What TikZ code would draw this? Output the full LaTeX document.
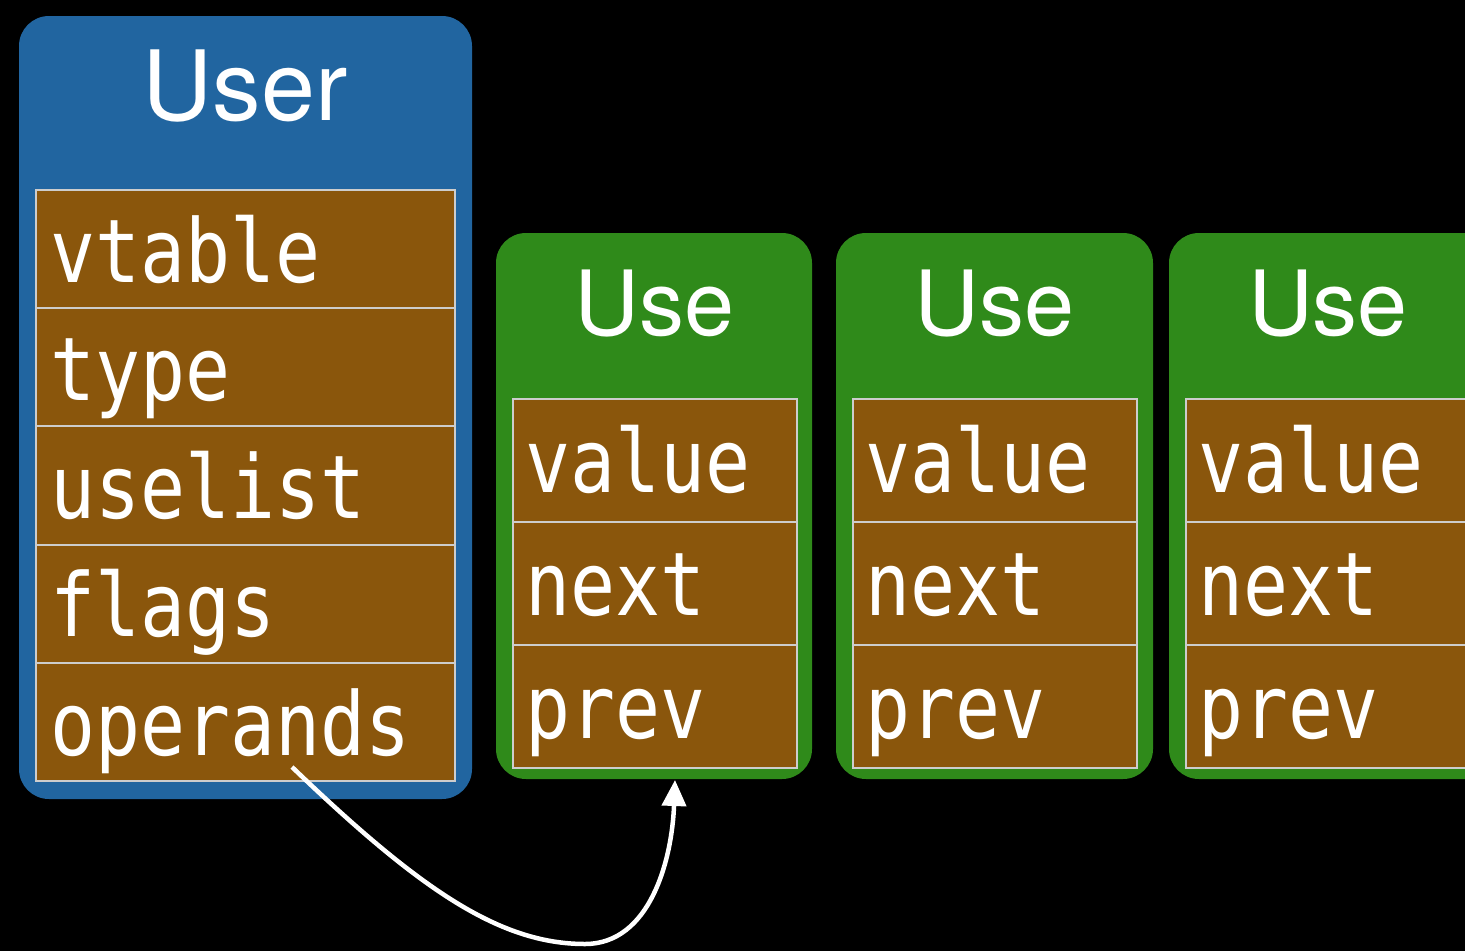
\documentclass[tikz,border=0pt]{standalone}
\usepackage{fontspec}
\setsansfont{TeX Gyre Heros}
\newfontfamily\monof[FakeStretch=0.85]{DejaVu Sans Mono}
\usetikzlibrary{arrows.meta,calc}
\definecolor{userblue}{RGB}{33,101,160}
\definecolor{usegreen}{RGB}{47,138,26}
\definecolor{fieldbrown}{RGB}{138,86,12}
\definecolor{fieldline}{RGB}{205,205,205}
\begin{document}
\begin{tikzpicture}[x=1pt,y=-1pt,
  userbox/.style={fill=userblue, rounded corners=30pt, anchor=north west, inner sep=0, outer sep=0},
  usebox/.style={fill=usegreen, rounded corners=30pt, anchor=north west, inner sep=0, outer sep=0},
  field/.style={draw=fieldline, line width=2pt, fill=fieldbrown, anchor=north west, inner sep=0, outer sep=0},
  ftext/.style={anchor=base west, text=white, inner sep=0, font=\monof\fontsize{88}{88}\selectfont},
  bigtitle/.style={anchor=base, text=white, inner sep=0, font=\sffamily\fontsize{97}{97}\selectfont},
  smalltitle/.style={anchor=base, text=white, inner sep=0, font=\sffamily\fontsize{90}{90}\selectfont},
  conn/.style={draw=white, line width=4.5pt, -{Triangle[length=26pt,width=24pt]}}]
\fill[black] (0,0) rectangle (1465,951);
\useasboundingbox (0,0) rectangle (1465,951);
\clip (0,0) rectangle (1465,951);

% User box
\node[userbox, minimum width=453pt, minimum height=783pt] (user) at (19,16) {};
\node[bigtitle] (usertitle) at (245,120) {User};
\foreach \n/\t [count=\i from 0] in {vtable/vtable,type/type,uselist/uselist,flags/flags,operands/operands}{
  \node[field, minimum width=419pt, minimum height=118.2pt] (\n) at (36,{190+118.2*\i}) {};
  \node[ftext] (\n-txt) at ($(\n.south west)+(14,-26)$) {\t};
}

% Use boxes
\foreach \b/\x/\w in {u1/496/316,u2/836/317,u3/1169/330}{
  \node[usebox, minimum width=\w pt, minimum height=546pt] (\b) at (\x,233) {};
  \node[smalltitle] (\b-title) at ({\x+159},335) {Use};
  \foreach \f [count=\j from 0] in {value,next,prev}{
    \node[field, minimum width=284pt, minimum height=123pt] (\b-\f) at ({\x+16.5},{399+123*\j}) {};
    \node[ftext] (\b-\f-txt) at ($(\b-\f.south west)+(13,-30)$) {\f};
  }
}

% connector
\coordinate (src) at ($(operands.south west)+(256,-14)$);
\coordinate (dip) at (585,944);
\coordinate (dst) at ($(u1.south)+(21,1)$);
\draw[conn] (src) .. controls +(128,123) and +(-85,0) .. (dip)
  .. controls +(65,0) and +(-3,80) .. (dst);
\end{tikzpicture}
\end{document}
